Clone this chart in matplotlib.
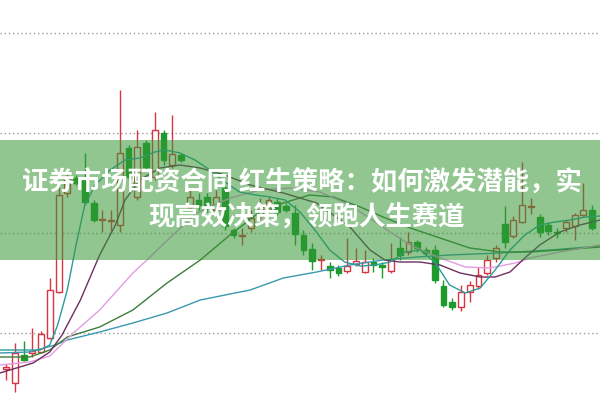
import matplotlib.pyplot as plt
from matplotlib.patches import Rectangle

plt.rcParams['font.family'] = ['Noto Sans CJK SC', 'DejaVu Sans']

# daily candles
opens = [3.20, 2.50, 3.90, 4.00, 4.05, 4.75, 7.05, 12.00, 12.75, 12.65,
         11.50, 10.65, 10.60, 10.40, 14.25, 11.80, 14.50, 12.80, 15.00, 13.40,
         13.90, 11.30, 11.65, 11.80, 11.15, 12.25, 10.15, 9.85, 10.25, 10.85,
         11.15, 11.55, 11.35, 11.00, 9.90, 9.20, 8.65, 8.35, 8.25, 8.10,
         8.45, 8.05, 8.55, 8.40, 8.10, 9.25, 9.05, 9.55, 9.15, 9.15,
         7.35, 6.55, 6.30, 7.05, 7.35, 8.00, 8.75, 10.45, 9.85, 10.55,
         11.30, 10.80, 10.40, 10.05, 10.25, 10.35, 10.90, 11.15]
highs = [3.45, 4.50, 4.60, 5.25, 5.10, 7.75, 12.40, 13.15, 12.90, 14.00,
         11.65, 11.15, 11.15, 17.15, 14.40, 15.15, 14.65, 16.05, 15.15, 15.90,
         14.00, 12.15, 12.00, 12.00, 12.15, 12.40, 10.25, 10.25, 11.15, 11.75,
         11.80, 11.75, 11.50, 11.40, 10.15, 9.50, 8.90, 8.55, 8.40, 9.75,
         9.25, 9.15, 8.75, 8.55, 9.50, 9.80, 10.05, 9.65, 9.30, 9.40,
         7.65, 6.75, 7.40, 7.60, 8.30, 8.90, 9.40, 11.35, 10.85, 13.55,
         11.75, 10.95, 10.55, 10.25, 10.65, 11.00, 12.50, 11.40]
lows = [2.65, 2.05, 3.60, 3.80, 4.00, 4.70, 7.00, 11.80, 12.40, 11.40,
        10.55, 10.05, 10.05, 10.05, 12.65, 11.65, 13.15, 12.65, 13.40, 13.25,
        13.55, 11.15, 11.15, 11.05, 10.90, 10.15, 9.75, 9.40, 10.05, 10.65,
        11.00, 10.90, 11.05, 9.40, 8.90, 8.15, 8.15, 7.75, 7.85, 8.00,
        8.35, 8.00, 8.05, 7.75, 8.00, 8.65, 8.90, 9.05, 8.90, 7.50,
        6.30, 6.15, 6.10, 6.55, 7.20, 7.90, 8.55, 9.25, 9.75, 10.50,
        10.95, 9.80, 9.90, 9.75, 10.05, 9.65, 10.85, 10.15]
closes = [3.30, 4.00, 3.65, 4.10, 4.95, 7.15, 11.90, 12.75, 12.50, 11.55,
          10.65, 10.70, 10.65, 14.00, 12.80, 14.30, 13.30, 15.15, 13.65, 13.95,
          13.65, 11.80, 11.40, 11.30, 11.80, 10.35, 9.90, 9.90, 10.75, 11.40,
          11.65, 11.05, 11.15, 9.95, 9.15, 8.60, 8.70, 8.15, 8.00, 8.35,
          8.60, 8.55, 8.40, 8.30, 8.65, 8.90, 9.55, 9.25, 9.00, 7.65,
          6.40, 6.30, 7.05, 7.40, 7.90, 8.65, 9.25, 9.55, 10.65, 11.40,
          11.35, 10.05, 10.10, 10.00, 10.55, 10.90, 11.15, 10.25]

# moving average lines (day index, price)
ma5_x = [-0.7, 0.8, 3.9, 5.0, 5.9, 7.0, 8.0, 9.0, 10.2, 11.9, 13.6, 15.3, 17.0,
         18.2, 19.9, 21.6, 23.3, 25.0, 26.7, 28.5, 30.2, 31.9, 33.6, 35.3, 37.0,
         38.7, 40.5, 42.2, 43.9, 45.6, 47.3, 49.0, 50.7, 52.5, 54.2, 55.9, 57.6,
         59.3, 61.0, 62.7, 64.5, 66.2, 67.9]
ma5_y = [4.15, 4.15, 4.15, 4.40, 5.40, 7.15, 9.40, 11.40, 12.40, 13.15, 13.65, 13.75, 14.05,
         14.15, 14.00, 13.65, 13.15, 12.55, 12.05, 11.90, 11.80, 11.65, 11.05, 10.15, 9.15,
         8.55, 8.35, 8.40, 8.55, 9.05, 9.15, 8.55, 7.40, 7.00, 7.25, 8.15, 9.15,
         9.90, 10.40, 10.55, 10.65, 10.80, 10.85]

ma10_x = [-0.7, 3.1, 5.0, 6.4, 8.5, 10.7, 12.5, 13.6, 15.3, 17.6, 19.9, 22.2, 25.0,
          27.9, 31.7, 35.5, 39.3, 41.6, 43.3, 45.0, 47.3, 49.6, 51.9, 54.2, 55.9,
          57.6, 59.3, 61.0, 63.3, 65.6, 67.9]
ma10_y = [3.00, 3.50, 4.05, 4.90, 6.65, 8.90, 10.40, 11.65, 12.65, 13.25, 13.40, 13.25, 12.90,
          12.40, 12.00, 11.50, 10.30, 9.15, 8.65, 8.55, 8.55, 8.40, 8.00, 7.80, 7.80,
          8.05, 8.75, 9.40, 10.05, 10.40, 10.65]

ma20_x = [-0.7, 2.7, 5.0, 7.7, 10.7, 14.5, 16.1, 18.7, 21.8, 25.6, 29.0, 32.5, 35.9,
          39.3, 42.7, 46.2, 49.6, 52.5, 55.3, 58.2, 59.9, 63.3, 67.9]
ma20_y = [3.40, 3.55, 3.85, 5.00, 6.15, 8.00, 8.65, 9.75, 11.00, 11.75, 12.15, 12.25, 12.05,
          11.40, 10.40, 9.40, 8.75, 8.30, 8.25, 8.50, 8.75, 9.05, 9.40]

ma30_x = [-0.7, 2.7, 5.0, 7.0, 10.7, 14.5, 18.4, 22.2, 25.6, 29.0, 31.7, 34.7, 37.4,
          40.5, 43.1, 46.2, 49.6, 53.0, 56.5, 59.9, 63.3, 67.9]
ma30_y = [3.80, 3.80, 4.15, 4.80, 5.30, 6.15, 7.50, 8.65, 9.90, 11.05, 11.50, 11.90, 11.80,
          11.30, 10.80, 10.25, 9.75, 9.25, 9.05, 9.05, 9.15, 9.30]

ma60_x = [-0.7, 2.7, 5.6, 7.0, 10.7, 14.5, 18.4, 22.2, 27.9, 31.7, 35.5, 39.3, 43.1,
          47.0, 50.7, 56.5, 62.2, 67.9]
ma60_y = [4.00, 4.05, 4.40, 4.65, 5.05, 5.50, 6.00, 6.65, 7.15, 7.75, 8.05, 8.40, 8.65,
          8.80, 8.90, 9.00, 9.15, 9.35]

grid_levels = [5, 10, 15, 20]
title1 = '证券市场配资合同 红牛策略：如何激发潜能，实'
title2 = '现高效决策，领跑人生赛道'

up_col = '#d9343f'
down_col = '#1c9a2b'

fig = plt.figure(figsize=(6, 4), dpi=100)
ax = fig.add_axes([0, 0, 1, 1])
ax.set_xlim(-0.69, 67.89)
ax.set_ylim(1.65, 21.65)
ax.axis('off')

for g in grid_levels:
    ax.axhline(g, color='#9a9a9a', lw=1, ls=(0, (1, 2)), zorder=0)

for i, (o, h, l, c) in enumerate(zip(opens, highs, lows, closes)):
    up = c >= o
    col = up_col if up else down_col
    ax.vlines(i, l, h, color=col, lw=1, zorder=2)
    body = max(abs(c - o), 0.05)
    ax.add_patch(Rectangle((i - 0.34, min(o, c)), 0.68, body,
                           facecolor='white' if up else col, edgecolor=col,
                           lw=1, zorder=3))

ax.plot(ma60_x, ma60_y, color='#3a98b0', lw=1, zorder=4)
ax.plot(ma30_x, ma30_y, color='#3b7d3b', lw=1, zorder=4)
ax.plot(ma20_x, ma20_y, color='#e49be4', lw=1, zorder=4)
ax.plot(ma10_x, ma10_y, color='#6d2f5f', lw=1, zorder=4)
ax.plot(ma5_x, ma5_y, color='#2b9c9c', lw=1, zorder=4)

# green banner with the headline
ax.axhspan(8.65, 14.65, color='#379737', alpha=0.55, lw=0, zorder=5)
ax.text(22 / 600, 1 - 183 / 400, title1, transform=ax.transAxes, color='white',
        fontsize=19, fontweight='bold', ha='left', va='center', zorder=6)
ax.text(148 / 600, 1 - 218 / 400, title2, transform=ax.transAxes, color='white',
        fontsize=19, fontweight='bold', ha='left', va='center', zorder=6)

fig.savefig('out.png', dpi=100)
